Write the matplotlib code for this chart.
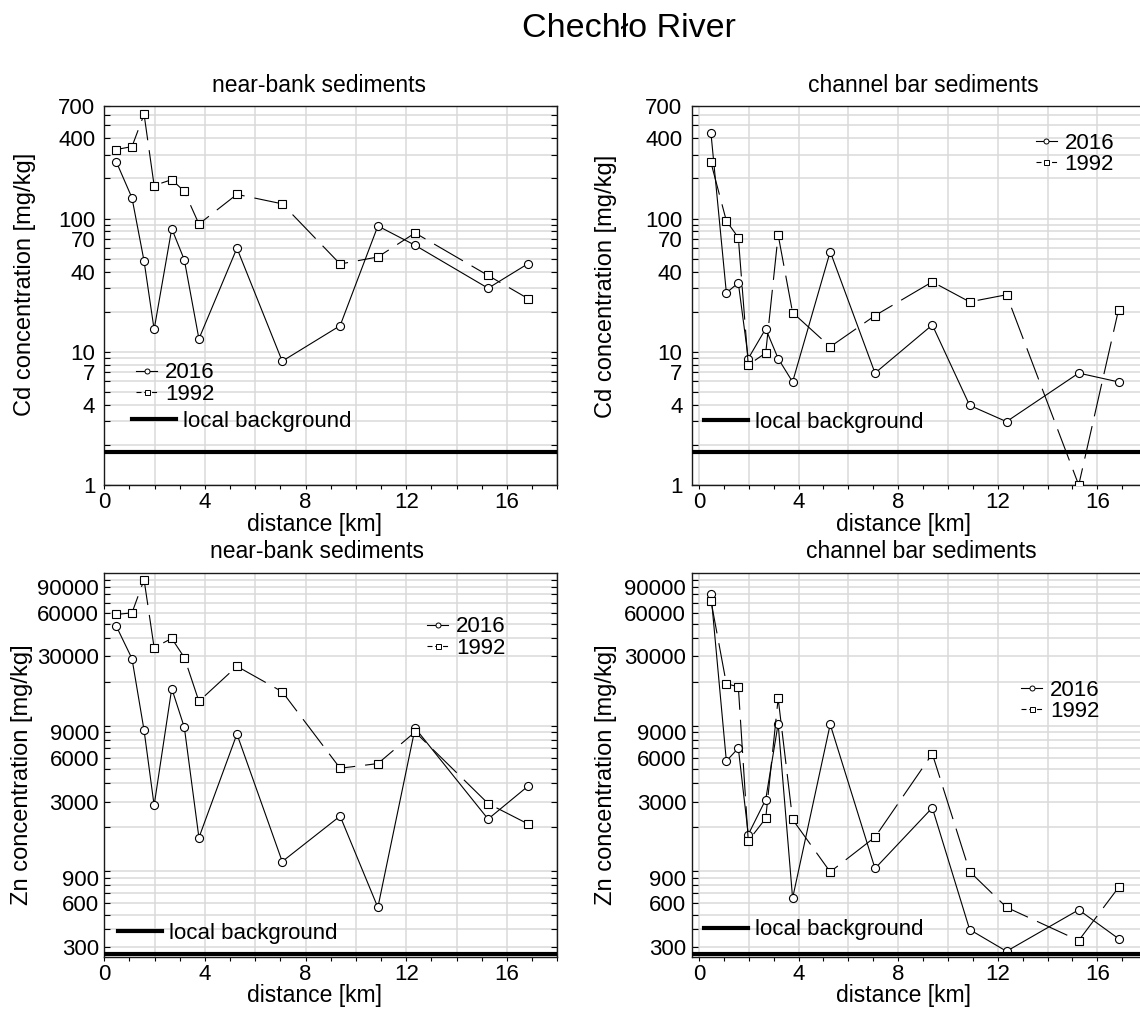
import numpy as np
import matplotlib
matplotlib.use("Agg")
import matplotlib.pyplot as plt
from matplotlib.lines import Line2D
from matplotlib.ticker import FixedLocator, FuncFormatter, LogLocator, NullFormatter, MultipleLocator

plt.rcParams['font.family'] = ['Liberation Sans', 'DejaVu Sans']

# ---------------- data ----------------
distance_km = [0.48, 1.10, 1.58, 1.98, 2.68, 3.18, 3.76, 5.27, 7.07, 9.37, 10.87, 12.35, 15.25, 16.85]

cd_bank_2016 = [266, 143, 48, 14.7, 84, 49, 12.5, 60, 8.5, 15.7, 88, 63, 30, 46]
cd_bank_1992 = [330, 347, 607, 177, 196, 160, 91, 152, 129, 45.6, 51.5, 78, 37.4, 25]
cd_bar_2016 = [440, 27.7, 32.9, 8.9, 14.9, 8.9, 5.94, 56.5, 6.92, 15.9, 3.96, 2.99, 6.92, 5.94]
cd_bar_1992 = [264, 96, 72, 7.97, 9.8, 75.4, 19.7, 10.9, 18.7, 33.5, 23.7, 26.8, 1.0, 20.7]

zn_bank_2016 = [48200, 28900, 9280, 2825, 18000, 9720, 1694, 8750, 1160, 2385, 561, 9620, 2275, 3850]
zn_bank_1992 = [58200, 59700, 101000, 34400, 39800, 29400, 14700, 25600, 17100, 5090, 5480, 9040, 2910, 2100]
zn_bar_2016 = [81000, 5700, 7000, 1780, 3100, 10300, 650, 10200, 1040, 2720, 395, 280, 540, 342]
zn_bar_1992 = [72500, 19400, 18500, 1610, 2300, 15400, 2260, 985, 1710, 6400, 990, 562, 332, 770]

cd_background = 1.78
zn_background = 270

cd_ticks = [1, 4, 7, 10, 40, 70, 100, 400, 700]
zn_ticks = [300, 600, 900, 3000, 6000, 9000, 30000, 60000, 90000]
x_label_ticks = [0, 4, 8, 12, 16]

main_title = "Chechło River"
titles = ["near-bank sediments", "channel bar sediments"]
series_labels = ["2016", "1992"]
bg_label = "local background"

# ---------------- layout ----------------
W, H = 1140, 1011
fig = plt.figure(figsize=(W / 100, H / 100), dpi=100)

def frac_rect(left, right, top, bottom):
    return [left / W, 1 - bottom / H, (right - left) / W, (bottom - top) / H]

ax_tl = fig.add_axes(frac_rect(104.3, 557.3, 106, 485))
ax_tr = fig.add_axes(frac_rect(691.5, 1147.2, 106, 485))
ax_bl = fig.add_axes(frac_rect(104.3, 557.3, 573.3, 956.7))
ax_br = fig.add_axes(frac_rect(691.5, 1147.2, 573.3, 956.7))

GRID = '#dadada'
TICKFS = 16
LABFS = 16.5

def style_axes(ax, ylim, yticks, xlim, ypad):
    ax.set_yscale('log')
    ax.set_xlim(*xlim)
    ax.set_ylim(*ylim)
    ax.set_axisbelow(True)
    ax.yaxis.set_major_locator(FixedLocator(yticks))
    ax.yaxis.set_major_formatter(FuncFormatter(lambda v, p: f'{v:g}'))
    ax.yaxis.set_minor_locator(LogLocator(base=10, subs=np.arange(1, 10), numticks=30))
    ax.yaxis.set_minor_formatter(NullFormatter())
    ax.xaxis.set_major_locator(MultipleLocator(2))
    ax.xaxis.set_major_formatter(FuncFormatter(
        lambda v, p: f'{v:g}' if int(round(v)) in x_label_ticks else ''))
    ax.xaxis.set_minor_locator(MultipleLocator(1))
    ax.grid(True, which='major', axis='x', color=GRID, lw=1.1)
    ax.grid(True, which='both', axis='y', color=GRID, lw=1.1)
    ax.tick_params(axis='y', which='both', direction='in', left=True, right=True,
                   length=4, width=0.8, labelsize=TICKFS, pad=ypad, colors='k')
    ax.tick_params(axis='x', which='both', direction='out', bottom=True, top=False,
                   length=2.6, width=0.8, labelsize=TICKFS, pad=2.5, colors='k')
    for s in ax.spines.values():
        s.set_linewidth(1.0)
        s.set_color('#1a1a1a')

def plot_series(ax, y16, y92, bg):
    ax.plot(distance_km, y16, '-', color='k', lw=0.8, marker='o', ms=5.8,
            mfc='white', mec='k', mew=0.8, zorder=3)
    ax.plot(distance_km, y92, color='k', lw=0.8, ls=(0, (30, 9)), marker='s', ms=5.8,
            mfc='white', mec='k', mew=0.8, zorder=3)
    ax.axhline(bg, color='k', lw=3.0, zorder=4)

def labels(ax, title, tpos, ylabel, ypos, xpos):
    ax.set_title(title, x=tpos[0], y=tpos[1], va='center', pad=0, fontsize=LABFS)
    ax.set_xlabel('distance [km]', fontsize=LABFS, va='center')
    ax.xaxis.set_label_coords(*xpos)
    ax.set_ylabel(ylabel, fontsize=17, va='center')
    ax.yaxis.set_label_coords(*ypos)

def legends(ax, a_left, a_y, b_left, b_y):
    h16 = Line2D([], [], color='k', lw=0.8, marker='o', ms=3.6, mfc='white', mec='k', mew=0.7)
    h92 = Line2D([], [], color='k', lw=0.8, ls=(0, (4.5, 2.5)), marker='s', ms=3.6,
                 mfc='white', mec='k', mew=0.7)
    hbg = Line2D([], [], color='k', lw=3.0)
    legA = ax.legend([h16, h92], series_labels, loc='center left',
                     bbox_to_anchor=(a_left / W, 1 - a_y / H), bbox_transform=fig.transFigure,
                     frameon=False, fontsize=16, handlelength=0.95, handletextpad=0.35,
                     labelspacing=0.0, borderpad=0, borderaxespad=0)
    ax.add_artist(legA)
    ax.legend([hbg], [bg_label], loc='center left',
              bbox_to_anchor=(b_left / W, 1 - b_y / H), bbox_transform=fig.transFigure,
              frameon=False, fontsize=16, handlelength=1.98, handletextpad=0.32,
              borderpad=0, borderaxespad=0)

cd_ylim = (1, 700)
zn_ylim = (257, 111700)

style_axes(ax_tl, cd_ylim, cd_ticks, (0, 18), 6.5)
style_axes(ax_tr, cd_ylim, cd_ticks, (-0.3, 18), 6.5)
style_axes(ax_bl, zn_ylim, zn_ticks, (0, 18), 3.8)
style_axes(ax_br, zn_ylim, zn_ticks, (-0.3, 18), 3.8)

plot_series(ax_tl, cd_bank_2016, cd_bank_1992, cd_background)
plot_series(ax_tr, cd_bar_2016, cd_bar_1992, cd_background)
plot_series(ax_bl, zn_bank_2016, zn_bank_1992, zn_background)
plot_series(ax_br, zn_bar_2016, zn_bar_1992, zn_background)

labels(ax_tl, titles[0], (0.475, 1.0554), 'Cd concentration [mg/kg]', (-0.1757, 0.530), (0.464, -0.1055))
labels(ax_tr, titles[1], (0.509, 1.0554), 'Cd concentration [mg/kg]', (-0.1867, 0.525), (0.465, -0.1055))
labels(ax_bl, titles[0], (0.47, 1.0563), 'Zn concentration [mg/kg]', (-0.182, 0.474), (0.464, -0.1025))
labels(ax_br, titles[1], (0.5036, 1.0563), 'Zn concentration [mg/kg]', (-0.1867, 0.474), (0.465, -0.1025))

legends(ax_tl, 136, 383.5, 132, 421)
legends(ax_tr, 1035.7, 153.7, 703.8, 422.3)
legends(ax_bl, 427, 637.5, 118, 933.3)
legends(ax_br, 1021, 701, 703.8, 930)

fig.text(629 / W, 1 - 28.5 / H, main_title, fontsize=24.5, ha='center', va='center')

fig.savefig('out.png', dpi=100)
